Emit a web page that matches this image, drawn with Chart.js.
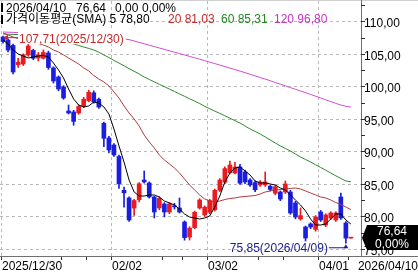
<!DOCTYPE html>
<html>
<head>
<meta charset="utf-8">
<script src="https://cdn.jsdelivr.net/npm/chart.js@4.4.1/dist/chart.umd.min.js"></script>
<style>
html,body{margin:0;padding:0;background:#fff;overflow:hidden;}
canvas{display:block;}
</style>
</head>
<body>
<canvas id="chart" width="418" height="276"></canvas>
<script>
// ---------- data ----------
const dates = ['2025/12/30','2025/12/31','2026/01/02','2026/01/05','2026/01/06','2026/01/07','2026/01/08','2026/01/09','2026/01/12','2026/01/13','2026/01/14','2026/01/15','2026/01/16','2026/01/20','2026/01/21','2026/01/22','2026/01/23','2026/01/26','2026/01/27','2026/01/28','2026/01/29','2026/01/30','2026/02/02','2026/02/03','2026/02/04','2026/02/05','2026/02/06','2026/02/09','2026/02/10','2026/02/11','2026/02/12','2026/02/13','2026/02/17','2026/02/18','2026/02/19','2026/02/20','2026/02/23','2026/02/24','2026/02/25','2026/02/26','2026/02/27','2026/03/02','2026/03/03','2026/03/04','2026/03/05','2026/03/06','2026/03/09','2026/03/10','2026/03/11','2026/03/12','2026/03/13','2026/03/16','2026/03/17','2026/03/18','2026/03/19','2026/03/20','2026/03/23','2026/03/24','2026/03/25','2026/03/26','2026/03/27','2026/03/30','2026/03/31','2026/04/01','2026/04/02','2026/04/06','2026/04/07','2026/04/08','2026/04/09','2026/04/10'];
const openP  = [107.58,107.12,106.29,103.31,103.43,104.82,105.51,104.35,104.31,105.12,102.82,101.43,99.89,96.2,96.05,95.89,96.89,97.8,99.0,98.0,94.31,92.05,90.97,89.2,84.0,82.82,81.26,82.54,85.58,85.12,82.97,81.28,81.89,80.66,81.6,81.28,79.12,76.8,78.26,81.28,80.2,80.62,81.0,84.0,85.23,86.69,86.66,87.58,86.82,85.58,85.18,84.82,84.82,84.63,83.54,83.74,83.74,83.74,82.05,79.6,78.35,78.82,77.97,80.66,78.66,79.74,79.43,82.97,78.97,76.64];
const highP  = [107.71,107.3,106.5,104.3,105.0,106.6,105.7,105.2,105.6,105.4,103.0,101.6,100.1,97.12,96.3,97.1,98.3,99.4,99.3,98.2,94.5,92.3,91.2,89.4,84.51,83.0,82.6,85.2,86.97,85.3,83.1,83.0,82.1,82.1,82.0,82.82,79.3,78.4,80.8,82.7,81.6,82.6,84.2,85.8,87.6,88.51,88.3,88.0,87.1,85.8,85.4,85.5,86.82,84.8,84.8,83.9,85.43,84.0,82.3,81.3,78.5,79.0,80.1,80.9,80.4,80.7,80.7,83.58,79.2,76.64];
const lowP   = [106.65,105.3,101.9,102.9,103.2,104.6,104.1,103.9,104.2,102.6,100.5,99.3,98.0,95.74,94.0,95.7,96.7,97.6,97.4,96.6,90.71,89.74,89.2,84.29,81.4,79.2,80.15,82.2,85.1,82.8,79.74,81.0,79.9,80.4,81.1,80.5,76.32,76.35,78.1,81.1,80.0,80.4,80.8,83.8,85.0,86.5,86.5,84.9,85.0,84.6,83.8,84.6,84.6,83.9,83.3,82.4,83.5,80.3,79.6,79.4,76.2,78.1,77.7,79.2,78.4,79.5,79.2,79.5,75.85,76.64];
const closeP = [106.88,105.58,102.2,103.71,104.82,106.2,104.31,104.82,105.2,102.89,100.82,99.58,98.2,95.89,94.6,96.89,98.0,99.09,97.6,96.8,92.0,90.2,89.43,85.0,83.6,79.43,82.43,85.0,85.28,82.97,80.66,82.75,80.66,81.89,81.45,80.66,76.72,78.17,80.62,82.51,81.4,82.43,84.0,85.58,87.34,87.89,87.58,85.09,85.28,84.82,84.08,85.28,85.28,84.12,84.54,82.66,84.97,80.51,79.89,80.1,76.66,78.35,79.89,79.43,80.2,80.51,80.51,79.74,76.64,76.64];
const sma5   = [107.12,106.51,105.58,104.97,104.66,104.35,104.51,104.66,104.74,104.51,103.58,102.51,101.28,99.58,98.05,97.12,96.82,96.97,97.58,97.43,96.82,95.74,93.43,90.82,88.35,85.58,83.74,83.12,83.12,83.28,83.28,82.97,82.35,82.05,81.74,81.12,80.35,79.89,79.74,79.58,79.74,80.05,81.43,83.12,85.28,86.66,87.43,87.58,86.97,86.35,85.43,85.12,85.12,84.97,84.82,84.35,84.05,83.28,82.51,81.74,80.82,79.58,78.66,78.66,78.82,79.58,80.35,80.35,79.43,78.80];
const sma20  = [108.2,107.89,107.58,107.35,107.12,106.97,106.82,106.58,106.35,106.05,105.58,105.28,104.82,104.35,103.89,103.43,102.82,102.35,101.66,101.12,100.66,100.05,99.12,98.2,96.97,95.89,94.97,93.89,92.51,91.43,90.51,89.43,88.66,88.05,87.43,86.66,85.74,84.82,84.05,83.28,82.66,82.35,82.2,82.35,82.58,82.74,82.82,82.97,83.05,83.12,83.2,83.43,83.74,83.89,84.05,84.12,84.2,84.28,84.35,84.2,83.89,83.58,83.28,82.97,82.82,82.51,82.12,81.82,81.43,81.03];
const sma60  = [108.05,108.02,107.98,107.95,107.89,107.83,107.77,107.68,107.58,107.43,107.28,107.12,106.97,106.74,106.51,106.28,106.05,105.82,105.58,105.23,104.82,104.42,103.98,103.57,103.15,102.72,102.31,101.89,101.43,101.05,100.68,100.31,99.94,99.57,99.2,98.83,98.46,98.09,97.72,97.35,96.91,96.55,96.18,95.83,95.46,95.09,94.72,94.35,93.89,93.43,93.05,92.66,92.2,91.74,91.28,90.82,90.43,90.05,89.58,89.12,88.74,88.35,87.92,87.51,87.09,86.66,86.23,85.82,85.43,85.31];
const sma120 = [108.35,108.32,108.29,108.26,108.23,108.2,108.17,108.14,108.11,108.06,108.02,107.97,107.92,107.88,107.83,107.78,107.74,107.69,107.65,107.6,107.55,107.49,107.43,107.37,107.29,107.18,106.97,106.75,106.54,106.32,106.11,105.89,105.68,105.46,105.25,105.03,104.82,104.6,104.38,104.17,103.94,103.72,103.49,103.26,103.03,102.8,102.57,102.34,102.09,101.85,101.6,101.35,101.11,100.85,100.58,100.32,100.06,99.8,99.54,99.28,99.02,98.75,98.48,98.2,97.92,97.65,97.37,97.12,96.92,96.8];
const xTickDates  = ['2025/12/30','2026/02/02','2026/03/02','2026/04/01'];
const xTickLabels = ['2025/12/30','02/02','03/02','04/01'];
const xMinorDates = ['2026/01/16','2026/01/26','2026/02/17','2026/02/23','2026/03/16','2026/03/23','2026/04/10'];
const yLabelValues = [75,80,85,90,95,100,105,110];
const yMinorValues = [77.5,82.5,87.5,92.5,97.5,102.5,107.5,112.5];
const maPeriods = [5,20,60,120];
const maLast    = [78.80,81.03,85.31,96.80];
const lastDate = '2026/04/10', lastClose = 76.64, lastChange = 0.00, lastPct = 0.00;
const highMark = {value:107.71, date:'2025/12/30'};
const lowMark  = {value:75.85,  date:'2026/04/09'};

// ---------- styling ----------
const UP = '#ea1a1f', DOWN = '#1a1ee0';
const MA_LINE = ['#000000','#b23a3c','#2c8c2c','#d24ad2'];
const MA_TEXT = ['#000000','#c42a2a','#228822','#c436c4'];
const FONT = '12px "Liberation Sans", Arial, "Noto Sans CJK KR", sans-serif';
const fmt = v => v.toFixed(2).replace('.', ',');
const candleColors = dates.map((d,i) => closeP[i] >= openP[i] ? UP : DOWN);
const toXY = arr => arr.map((v,i) => ({x:i, y:v}));

const hts = {
  id:'hts',
  beforeDatasetsDraw(chart){
    const {ctx, chartArea:a, scales:{x,y}} = chart;
    ctx.save();
    ctx.strokeStyle = '#b9b9b9'; ctx.lineWidth = 1; ctx.setLineDash([3,3]);
    yLabelValues.forEach(v => {
      const py = Math.round(y.getPixelForValue(v)) + 0.5;
      ctx.beginPath(); ctx.moveTo(a.left, py); ctx.lineTo(a.right, py); ctx.stroke();
    });
    xTickDates.forEach(d => {
      const px = Math.round(x.getPixelForValue(dates.indexOf(d) - 0.5)) + 0.5;
      ctx.beginPath(); ctx.moveTo(px, a.top); ctx.lineTo(px, a.bottom); ctx.stroke();
    });
    ctx.restore();
  },
  afterDraw(chart){
    const {ctx, chartArea:a, scales:{x,y}} = chart;
    const W = chart.width;
    ctx.save();
    ctx.font = FONT; ctx.textBaseline = 'alphabetic'; ctx.setLineDash([]);
    // frame lines
    ctx.strokeStyle = '#d0d0d0'; ctx.lineWidth = 1;
    ctx.beginPath(); ctx.moveTo(0, 0.5); ctx.lineTo(W, 0.5); ctx.stroke();
    ctx.strokeStyle = '#707070';
    ctx.beginPath(); ctx.moveTo(a.right + 0.5, 0); ctx.lineTo(a.right + 0.5, a.bottom); ctx.stroke();
    ctx.beginPath(); ctx.moveTo(0, a.bottom + 0.5); ctx.lineTo(W, a.bottom + 0.5); ctx.stroke();
    // y ticks + labels
    ctx.strokeStyle = '#303030';
    yLabelValues.concat(yMinorValues).forEach(v => {
      const py = Math.round(y.getPixelForValue(v)) + 0.5;
      if (py < a.top || py > a.bottom) return;
      ctx.beginPath(); ctx.moveTo(a.right, py); ctx.lineTo(a.right + 4, py); ctx.stroke();
    });
    ctx.fillStyle = '#000'; ctx.textAlign = 'left';
    yLabelValues.forEach(v => {
      const py = Math.round(y.getPixelForValue(v));
      ctx.fillText(fmt(v), a.right + 3, py + 6);
    });
    // x ticks + labels
    xTickDates.concat(xMinorDates).forEach(d => {
      const px = Math.round(x.getPixelForValue(dates.indexOf(d) - 0.5)) + 0.5;
      ctx.beginPath(); ctx.moveTo(px, a.bottom + 1); ctx.lineTo(px, a.bottom + 4); ctx.stroke();
    });
    xTickDates.forEach((d,k) => {
      const px = Math.round(x.getPixelForValue(dates.indexOf(d) - 0.5));
      ctx.fillText(xTickLabels[k], px + 1, 270);
    });
    ctx.textAlign = 'right';
    ctx.fillText(lastDate, W, 270);
    ctx.textAlign = 'left';
    // header line 1
    ctx.fillStyle = '#000';
    ctx.fillRect(1, 3, 2, 9);
    ctx.fillText(lastDate, 6, 12);
    ctx.fillText(fmt(lastClose), 76, 12);
    ctx.fillText(fmt(lastChange), 115, 12);
    ctx.fillText(fmt(lastPct) + '%', 142, 12);
    // header line 2 (moving averages)
    ctx.fillRect(1, 15, 2, 9);
    const maX = [6, 168, 221, 274];
    maPeriods.forEach((p,k) => {
      ctx.fillStyle = MA_TEXT[k];
      const s = (k === 0 ? '가격이동평균(SMA) ' : '') + p + ' ' + fmt(maLast[k]);
      ctx.fillText(s, maX[k], 23);
    });
    // high marker
    const hx = x.getPixelForValue(dates.indexOf(highMark.date));
    const hy = y.getPixelForValue(highMark.value);
    const hs = fmt(highMark.value) + '(' + highMark.date + ')';
    ctx.fillStyle = '#fff';
    ctx.fillRect(hx + 15, hy - 5, ctx.measureText(hs).width + 3, 13);
    ctx.strokeStyle = '#c42a2a'; ctx.fillStyle = '#c42a2a';
    ctx.beginPath(); ctx.moveTo(hx + 3, hy + 1.5); ctx.lineTo(hx + 15, hy + 1.5); ctx.stroke();
    ctx.beginPath(); ctx.moveTo(hx, hy + 1.5); ctx.lineTo(hx + 5, hy - 1.5); ctx.lineTo(hx + 5, hy + 4.5); ctx.closePath(); ctx.fill();
    ctx.fillText(hs, hx + 16, hy + 6.5);
    // low marker
    const lx = x.getPixelForValue(dates.indexOf(lowMark.date));
    const ly = y.getPixelForValue(lowMark.value);
    const ls = fmt(lowMark.value) + '(' + lowMark.date + ')';
    ctx.fillStyle = '#1c1c8c'; ctx.strokeStyle = '#1c1c8c';
    ctx.textAlign = 'right';
    ctx.fillText(ls, lx - 18, ly + 9);
    ctx.beginPath(); ctx.moveTo(lx - 17, ly + 4.5); ctx.lineTo(lx, ly + 4.5); ctx.stroke();
    ctx.beginPath(); ctx.moveTo(lx, ly + 1); ctx.lineTo(lx - 2.5, ly + 5); ctx.lineTo(lx + 2.5, ly + 5); ctx.closePath(); ctx.fill();
    // last price box
    const py = y.getPixelForValue(lastClose);
    ctx.fillStyle = '#000';
    ctx.beginPath();
    ctx.moveTo(a.right + 1, py); ctx.lineTo(a.right + 6, py - 13); ctx.lineTo(W, py - 13);
    ctx.lineTo(W, py + 12); ctx.lineTo(a.right + 6, py + 12); ctx.closePath(); ctx.fill();
    ctx.fillStyle = '#fff'; ctx.textAlign = 'center';
    ctx.fillText(fmt(lastClose), 392, py - 3);
    ctx.fillText(fmt(lastPct) + '%', 392, py + 9.5);
    ctx.restore();
  }
};

new Chart(document.getElementById('chart'), {
  type:'bar',
  data:{
    datasets:[
      {type:'line', data:toXY(sma5),   borderColor:MA_LINE[0], borderWidth:1, pointRadius:0, tension:0, order:0},
      {type:'line', data:toXY(sma20),  borderColor:MA_LINE[1], borderWidth:1, pointRadius:0, tension:0, order:0},
      {type:'line', data:toXY(sma60),  borderColor:MA_LINE[2], borderWidth:1, pointRadius:0, tension:0, order:0},
      {type:'line', data:toXY(sma120), borderColor:MA_LINE[3], borderWidth:1, pointRadius:0, tension:0, order:0},
      {type:'bar', data:dates.map((d,i)=>({x:i, y:[lowP[i], highP[i]]})), backgroundColor:candleColors, barThickness:1, grouped:false, order:3},
      {type:'bar', data:dates.map((d,i)=>({x:i, y:[openP[i], closeP[i]]})), backgroundColor:candleColors, barThickness:4, minBarLength:1, grouped:false, order:2}
    ]
  },
  options:{
    responsive:false, animation:false, devicePixelRatio:1,
    layout:{padding:{top:1, left:0, right:0, bottom:0}},
    plugins:{legend:{display:false}, tooltip:{enabled:false}},
    scales:{
      x:{type:'linear', min:-0.6, max:71.0, offset:false, grid:{display:false}, border:{display:false}, ticks:{display:false},
         afterFit(s){ s.height = 20; }},
      y:{position:'right', min:73.89, max:113.12, grid:{display:false}, border:{display:false}, ticks:{display:false},
         afterFit(s){ s.width = 57; }}
    }
  },
  plugins:[hts]
});
</script>
</body>
</html>
